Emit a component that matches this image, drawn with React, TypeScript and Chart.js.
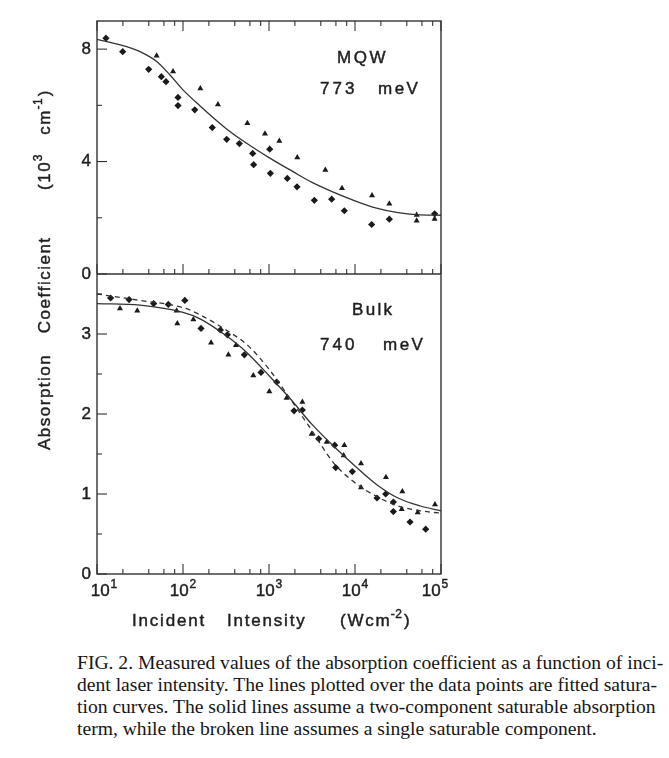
import React, { useEffect, useRef } from 'react';
import { Chart, registerables } from 'chart.js';

Chart.register(...registerables);

// ---------- axis definitions ----------
const xMin = 10;
const xMax = 100000;
const decadeValues = [10, 100, 1000, 10000, 100000];
const decadeExponents = ['1', '2', '3', '4', '5'];
const minorMultipliers = [2, 4, 6, 8];

const topMax = 9;
const topMajorTicks = [0, 4, 8];
const topMinorTicks = [2, 6];
const botMax = 3.75;
const botMajorTicks = [0, 1, 2, 3];
const botMinorTicks = [0.5, 1.5, 2.5, 3.5];

// ---------- MQW (773 meV) ----------
const mqwDiamondX = [12.7, 19.9, 39.9, 56, 63.4, 87.5, 87.5, 137, 219, 322, 452, 646, 663, 1019, 1037, 1634, 2117, 3368, 5355, 7516, 15630, 25060, 84300];
const mqwDiamondY = [8.39, 7.91, 7.28, 7.02, 6.84, 6.28, 5.99, 5.84, 5.21, 4.79, 4.64, 4.29, 3.89, 4.44, 3.58, 3.40, 3.10, 2.62, 2.66, 2.25, 1.76, 1.95, 2.14];
const mqwTriangleX = [49.4, 76.6, 159, 255, 560, 898, 1318, 2133, 4518, 7063, 15780, 25060, 52100, 52100, 84300];
const mqwTriangleY = [7.76, 7.20, 6.60, 6.03, 5.36, 4.99, 4.73, 4.14, 3.70, 3.05, 2.79, 2.50, 2.10, 1.89, 1.96];
const mqwFitX = [10, 22.1, 31.6, 49.4, 70.6, 100, 158, 316, 550, 1000, 1905, 3162, 10000, 17780, 31620, 57540, 100000];
const mqwFitY = [8.35, 8.09, 7.91, 7.56, 7.08, 6.55, 5.98, 5.18, 4.65, 4.14, 3.64, 3.26, 2.60, 2.34, 2.18, 2.10, 2.09];

// ---------- Bulk (740 meV) ----------
const bulkDiamondX = [14.4, 23.6, 45.6, 67.5, 105, 162, 272, 328, 517, 807, 1228, 1954, 2443, 3784, 5804, 5960, 9310, 18030, 22750, 27930, 27930, 43650, 66400];
const bulkDiamondY = [3.45, 3.43, 3.38, 3.37, 3.42, 3.07, 3.05, 2.99, 2.74, 2.52, 2.40, 2.04, 2.05, 1.69, 1.61, 1.33, 1.28, 0.95, 1.00, 0.90, 0.78, 0.65, 0.56];
const bulkTriangleX = [18.5, 29.4, 84.3, 85.9, 132, 212, 337, 413, 657, 1009, 1603, 2443, 3133, 4688, 7380, 7516, 11750, 11750, 22900, 34900, 35500, 53600, 85100];
const bulkTriangleY = [3.32, 3.29, 3.29, 3.13, 3.18, 2.89, 2.74, 2.86, 2.48, 2.28, 2.20, 2.15, 1.75, 1.65, 1.48, 1.61, 1.38, 1.08, 1.21, 0.81, 1.03, 0.77, 0.87];
const bulkFitX = [10, 31.6, 100, 158, 316, 550, 1000, 1738, 3162, 5623, 10000, 17780, 31620, 57540, 100000];
const bulkSolidY = [3.38, 3.36, 3.27, 3.19, 2.98, 2.77, 2.48, 2.20, 1.87, 1.60, 1.35, 1.12, 0.95, 0.85, 0.79];
const bulkDashedY = [3.50, 3.42, 3.33, 3.24, 3.05, 2.87, 2.56, 2.20, 1.79, 1.39, 1.14, 0.97, 0.85, 0.79, 0.76];

const captionLines = [
  'FIG. 2. Measured values of the absorption coefficient as a function of inci-',
  'dent laser intensity. The lines plotted over the data points are fitted satura-',
  'tion curves. The solid lines assume a two-component saturable absorption',
  'term, while the broken line assumes a single saturable component.',
];

const FONT = '"Liberation Sans", Arial, Helvetica, sans-serif';
const INK = '#1f1f1f';
const LINE = '#333333';

const pts = (xs: number[], ys: number[]) => xs.map((x, i) => ({ x, y: ys[i] }));

function drawSpaced(ctx: CanvasRenderingContext2D, text: string, x: number, y: number, spacing: number): number {
  let cx = x;
  for (const ch of text) {
    ctx.fillText(ch, cx, y);
    ctx.strokeText(ch, cx, y);
    cx += ctx.measureText(ch).width + spacing;
  }
  return cx - spacing;
}

const framePlugin = {
  id: 'framePlugin',
  afterDraw(chart: any) {
    const { ctx, chartArea: a, scales } = chart;
    const xs = scales.x;
    const yT = scales.yTop;
    const yB = scales.yBot;
    const midY = yT.getPixelForValue(0);
    const seg = (x1: number, y1: number, x2: number, y2: number) => {
      ctx.beginPath();
      ctx.moveTo(x1, y1);
      ctx.lineTo(x2, y2);
      ctx.stroke();
    };
    ctx.save();
    ctx.strokeStyle = LINE;
    ctx.lineWidth = 1.4;
    ctx.strokeRect(a.left, a.top, a.right - a.left, a.bottom - a.top);
    seg(a.left, midY, a.right, midY);

    // x ticks (bottom, middle, top)
    ctx.lineWidth = 1.1;
    const xticks: { v: number; major: boolean }[] = [];
    decadeValues.forEach((d, i) => {
      xticks.push({ v: d, major: true });
      if (i < decadeValues.length - 1) minorMultipliers.forEach((m) => xticks.push({ v: d * m, major: false }));
    });
    xticks.forEach(({ v, major }) => {
      const px = xs.getPixelForValue(v);
      const len = major ? 10 : 5;
      seg(px, a.bottom, px, a.bottom - len);
      seg(px, midY, px, midY - len);
      seg(px, a.top, px, a.top + len);
    });

    // y ticks
    topMajorTicks.forEach((v) => { const py = yT.getPixelForValue(v); seg(a.left, py, a.left + 10, py); });
    topMinorTicks.forEach((v) => { const py = yT.getPixelForValue(v); seg(a.left, py, a.left + 5, py); });
    botMajorTicks.forEach((v) => { const py = yB.getPixelForValue(v); seg(a.left, py, a.left + 10, py); });
    botMinorTicks.forEach((v) => { const py = yB.getPixelForValue(v); seg(a.left, py, a.left + 5, py); });

    // text style
    ctx.fillStyle = INK;
    ctx.strokeStyle = INK;
    ctx.lineWidth = 0.45;

    // y tick labels
    ctx.font = `17px ${FONT}`;
    ctx.textAlign = 'right';
    ctx.textBaseline = 'middle';
    const yl = (v: number, py: number) => { ctx.fillText(String(v), a.left - 6, py); ctx.strokeText(String(v), a.left - 6, py); };
    topMajorTicks.forEach((v) => yl(v, yT.getPixelForValue(v)));
    botMajorTicks.forEach((v) => yl(v, yB.getPixelForValue(v)));

    // x tick labels: 10^n
    ctx.textAlign = 'left';
    ctx.textBaseline = 'alphabetic';
    decadeValues.forEach((v, i) => {
      let px = xs.getPixelForValue(v);
      if (i === 0) px += 7;
      if (i === decadeValues.length - 1) px -= 6;
      ctx.font = `17px ${FONT}`;
      const w1 = ctx.measureText('10').width;
      ctx.font = `12px ${FONT}`;
      const w2 = ctx.measureText(decadeExponents[i]).width;
      const start = px - (w1 + w2 + 1) / 2;
      ctx.font = `17px ${FONT}`;
      drawSpaced(ctx, '10', start, a.bottom + 22, 0);
      ctx.font = `12px ${FONT}`;
      drawSpaced(ctx, decadeExponents[i], start + w1 + 1, a.bottom + 14, 0);
    });

    // x title
    ctx.font = `17px ${FONT}`;
    drawSpaced(ctx, 'Incident', 132, a.bottom + 52, 1.8);
    drawSpaced(ctx, 'Intensity', 227, a.bottom + 52, 1.8);
    let cx = drawSpaced(ctx, '(Wcm', 340, a.bottom + 52, 1.8);
    ctx.font = `12px ${FONT}`;
    cx = drawSpaced(ctx, '-2', cx + 1, a.bottom + 44, 0.5);
    ctx.font = `17px ${FONT}`;
    drawSpaced(ctx, ')', cx + 2, a.bottom + 52, 1.8);

    // panel labels
    ctx.font = `17px ${FONT}`;
    drawSpaced(ctx, 'MQW', 337, 63, 2.5);
    drawSpaced(ctx, '773', 320, 94, 3);
    drawSpaced(ctx, 'meV', 378, 94, 2.5);
    drawSpaced(ctx, 'Bulk', 352, 315, 2.3);
    drawSpaced(ctx, '740', 320, 350, 3);
    drawSpaced(ctx, 'meV', 383, 350, 2.5);

    // y title (rotated, reading upward)
    ctx.save();
    ctx.translate(50, 450);
    ctx.rotate(-Math.PI / 2);
    ctx.font = `17px ${FONT}`;
    let tx = drawSpaced(ctx, 'Absorption', 0, 0, 1.5);
    tx = drawSpaced(ctx, 'Coefficient', tx + 22, 0, 1.5);
    tx = drawSpaced(ctx, '(10', tx + 48, 0, 1.5);
    ctx.font = `12px ${FONT}`;
    tx = drawSpaced(ctx, '3', tx + 1, -8, 0.5);
    ctx.font = `17px ${FONT}`;
    tx = drawSpaced(ctx, 'cm', tx + 20, 0, 1.5);
    ctx.font = `12px ${FONT}`;
    tx = drawSpaced(ctx, '-1', tx + 1, -8, 0.5);
    ctx.font = `17px ${FONT}`;
    drawSpaced(ctx, ')', tx + 2, 0, 1.5);
    ctx.restore();

    ctx.restore();
  },
};

export default function App() {
  const canvasRef = useRef<HTMLCanvasElement | null>(null);

  useEffect(() => {
    const canvas = canvasRef.current;
    if (!canvas) return;
    const hidden = { display: false };
    const pointStyleBase = { showLine: false, backgroundColor: '#1a1a1a', borderColor: '#1a1a1a', borderWidth: 0 };
    const chart = new Chart(canvas, {
      type: 'scatter',
      data: {
        datasets: [
          { label: 'MQW fit', data: pts(mqwFitX, mqwFitY), yAxisID: 'yTop', showLine: true, pointRadius: 0, borderColor: LINE, borderWidth: 1.3, cubicInterpolationMode: 'monotone', fill: false },
          { label: 'Bulk two-component', data: pts(bulkFitX, bulkSolidY), yAxisID: 'yBot', showLine: true, pointRadius: 0, borderColor: LINE, borderWidth: 1.3, cubicInterpolationMode: 'monotone', fill: false },
          { label: 'Bulk single', data: pts(bulkFitX, bulkDashedY), yAxisID: 'yBot', showLine: true, pointRadius: 0, borderColor: LINE, borderWidth: 1.3, borderDash: [5, 4], cubicInterpolationMode: 'monotone', fill: false },
          { label: 'MQW diamonds', data: pts(mqwDiamondX, mqwDiamondY), yAxisID: 'yTop', pointStyle: 'rectRot', pointRadius: 3.6, ...pointStyleBase },
          { label: 'MQW triangles', data: pts(mqwTriangleX, mqwTriangleY), yAxisID: 'yTop', pointStyle: 'triangle', pointRadius: 3.5, ...pointStyleBase },
          { label: 'Bulk diamonds', data: pts(bulkDiamondX, bulkDiamondY), yAxisID: 'yBot', pointStyle: 'rectRot', pointRadius: 3.6, ...pointStyleBase },
          { label: 'Bulk triangles', data: pts(bulkTriangleX, bulkTriangleY), yAxisID: 'yBot', pointStyle: 'triangle', pointRadius: 3.5, ...pointStyleBase },
        ] as any,
      },
      options: {
        responsive: false,
        animation: false,
        devicePixelRatio: 1,
        layout: { padding: { left: 0, right: 228, top: 21, bottom: 0 } },
        scales: {
          x: {
            type: 'logarithmic', min: xMin, max: xMax, position: 'bottom',
            ticks: hidden, grid: { display: false, drawTicks: false }, border: hidden,
            afterFit: (s: any) => { s.height = 66; },
          },
          yBot: {
            type: 'linear', min: 0, max: botMax, position: 'left', stack: 'panels', stackWeight: 300,
            ticks: hidden, grid: { display: false, drawTicks: false }, border: hidden,
            afterFit: (s: any) => { s.width = 97; },
          },
          yTop: {
            type: 'linear', min: 0, max: topMax, position: 'left', stack: 'panels', stackWeight: 253,
            ticks: hidden, grid: { display: false, drawTicks: false }, border: hidden,
            afterFit: (s: any) => { s.width = 97; },
          },
        } as any,
        plugins: { legend: { display: false }, tooltip: { enabled: false } },
      },
      plugins: [framePlugin],
    });
    return () => chart.destroy();
  }, []);

  return (
    <div style={{ position: 'absolute', left: 0, top: 0, width: 669, height: 758, background: '#ffffff', overflow: 'hidden' }}>
      <canvas ref={canvasRef} width={669} height={640} style={{ display: 'block', width: 669, height: 640 }} />
      <div style={{ position: 'absolute', left: 77, top: 652, width: 573, fontFamily: '"Liberation Serif", "Times New Roman", serif', fontSize: 19.6, lineHeight: '22px', color: '#161616' }}>
        {captionLines.map((t, i) => (
          <div key={i} style={{ textAlign: 'justify', textAlignLast: i < captionLines.length - 1 ? 'justify' : 'left', whiteSpace: 'nowrap' as any }}>{t}</div>
        ))}
      </div>
    </div>
  );
}
